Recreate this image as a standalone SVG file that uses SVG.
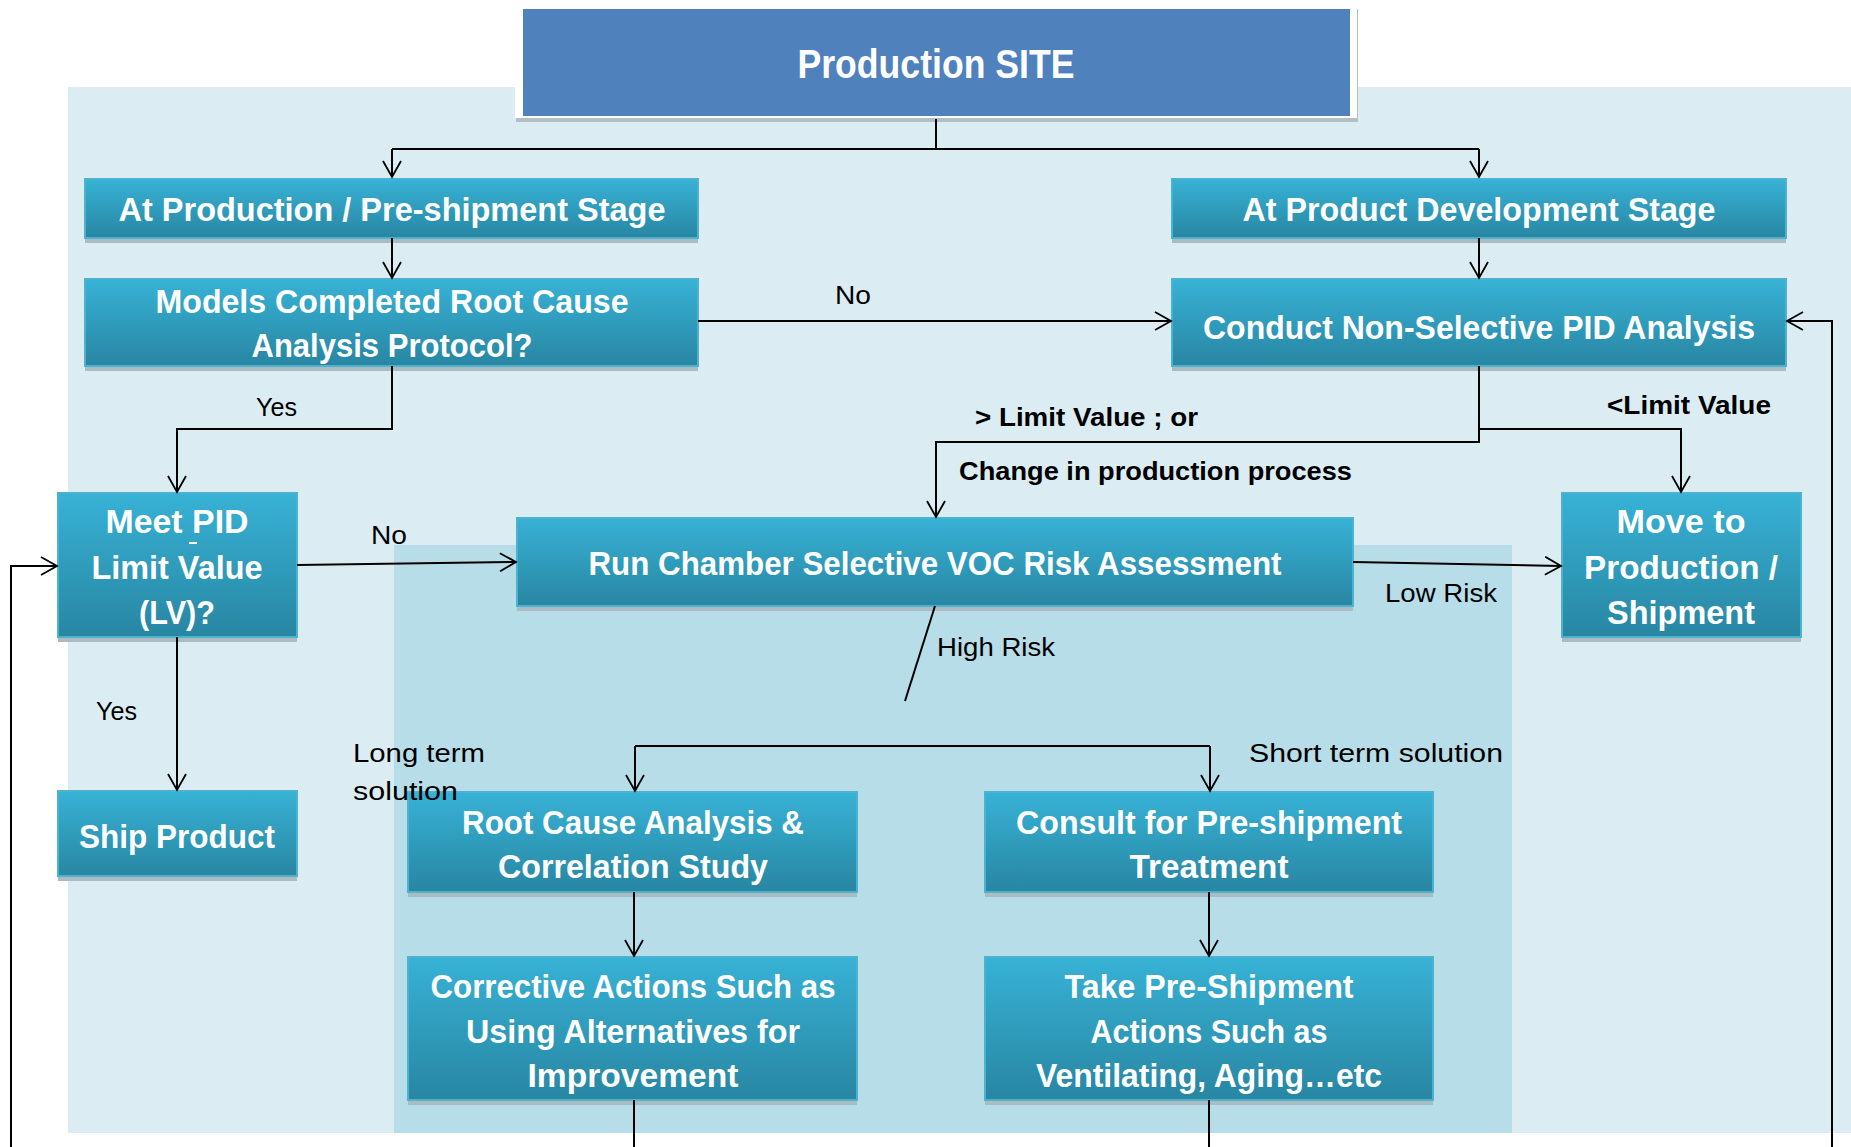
<svg xmlns="http://www.w3.org/2000/svg" width="1851" height="1147" viewBox="0 0 1851 1147">
<defs>
<linearGradient id="bx" x1="0" y1="0" x2="0" y2="1">
<stop offset="0" stop-color="#37b2d6"/>
<stop offset="1" stop-color="#2886a2"/>
</linearGradient>
<marker id="ah" markerUnits="userSpaceOnUse" markerWidth="20" markerHeight="22" refX="17" refY="10" orient="auto">
<path d="M1,1 L17,10 L1,19" fill="none" stroke="#000" stroke-width="1.8"/>
</marker>
<style>
.box{fill:url(#bx);stroke:#4cb3cf;stroke-width:2}
.sh{fill:#aabcc2}
.bt{font-family:"Liberation Sans",Arial,sans-serif;font-weight:bold;font-size:34px;fill:#fff;text-anchor:middle;dominant-baseline:central}
.lb{font-family:"Liberation Sans",Arial,sans-serif;font-size:26px;fill:#000;dominant-baseline:central}
.lbb{font-family:"Liberation Sans",Arial,sans-serif;font-size:26px;font-weight:bold;fill:#000;dominant-baseline:central}
.cn{fill:none;stroke:#000;stroke-width:2}
</style>
</defs>
<rect x="0" y="0" width="1851" height="1147" fill="#fff"/>
<rect x="68" y="87" width="1783" height="1046" fill="#dbedf3"/>
<rect x="394" y="545" width="1118" height="588" fill="#b7dde8"/>

<g id="production-site">
<rect x="516" y="9" width="842" height="113" fill="#b3bfc4"/>
<rect x="515" y="3" width="842" height="115" fill="#fff"/>
<rect x="523" y="9" width="827" height="107" fill="#4f81bd"/>
<text x="936" y="64" font-family="Liberation Sans,Arial,sans-serif" font-weight="bold" font-size="40" fill="#fff" text-anchor="middle" dominant-baseline="central" textLength="277" lengthAdjust="spacingAndGlyphs">Production SITE</text>
</g>

<g id="at-production">
<rect class="sh" x="85" y="183" width="613" height="60"/>
<rect class="box" x="85" y="179" width="613" height="59"/>
<text class="bt" x="392" y="209" textLength="547" lengthAdjust="spacingAndGlyphs">At Production / Pre-shipment Stage</text>
</g>

<g id="at-development">
<rect class="sh" x="1172" y="183" width="614" height="60"/>
<rect class="box" x="1172" y="179" width="614" height="59"/>
<text class="bt" x="1479" y="209" textLength="473" lengthAdjust="spacingAndGlyphs">At Product Development Stage</text>
</g>

<g id="models-completed">
<rect class="sh" x="85" y="283" width="613" height="88"/>
<rect class="box" x="85" y="279" width="613" height="87"/>
<text class="bt" x="392" y="301" textLength="473" lengthAdjust="spacingAndGlyphs">Models Completed Root Cause</text>
<text class="bt" x="392" y="345" textLength="281" lengthAdjust="spacingAndGlyphs">Analysis Protocol?</text>
</g>

<g id="conduct-pid">
<rect class="sh" x="1172" y="283" width="614" height="88"/>
<rect class="box" x="1172" y="279" width="614" height="87"/>
<text class="bt" x="1479" y="327" textLength="552" lengthAdjust="spacingAndGlyphs">Conduct Non-Selective PID Analysis</text>
</g>

<g id="meet-pid">
<rect class="sh" x="58" y="497" width="239" height="145"/>
<rect class="box" x="58" y="493" width="239" height="144"/>
<text class="bt" x="177" y="521" textLength="143" lengthAdjust="spacingAndGlyphs">Meet PID</text>
<rect x="189" y="542" width="8" height="2" fill="#fff"/>
<text class="bt" x="177" y="567" textLength="171" lengthAdjust="spacingAndGlyphs">Limit Value</text>
<text class="bt" x="177" y="612" textLength="76" lengthAdjust="spacingAndGlyphs">(LV)?</text>
</g>

<g id="run-chamber">
<rect class="sh" x="517" y="522" width="836" height="89"/>
<rect class="box" x="517" y="518" width="836" height="88"/>
<text class="bt" x="935" y="563" textLength="693" lengthAdjust="spacingAndGlyphs">Run Chamber Selective VOC Risk Assessment</text>
</g>

<g id="move-to-production">
<rect class="sh" x="1562" y="497" width="239" height="145"/>
<rect class="box" x="1562" y="493" width="239" height="144"/>
<text class="bt" x="1681" y="521" textLength="129" lengthAdjust="spacingAndGlyphs">Move to</text>
<text class="bt" x="1681" y="567" textLength="194" lengthAdjust="spacingAndGlyphs">Production /</text>
<text class="bt" x="1681" y="612" textLength="148" lengthAdjust="spacingAndGlyphs">Shipment</text>
</g>

<g id="ship-product">
<rect class="sh" x="58" y="795" width="239" height="86"/>
<rect class="box" x="58" y="791" width="239" height="85"/>
<text class="bt" x="177" y="836" textLength="196" lengthAdjust="spacingAndGlyphs">Ship Product</text>
</g>

<g id="root-cause">
<rect class="sh" x="408" y="796" width="449" height="101"/>
<rect class="box" x="408" y="792" width="449" height="100"/>
<text class="bt" x="633" y="822" textLength="342" lengthAdjust="spacingAndGlyphs">Root Cause Analysis &amp;</text>
<text class="bt" x="633" y="866" textLength="270" lengthAdjust="spacingAndGlyphs">Correlation Study</text>
</g>

<g id="consult">
<rect class="sh" x="985" y="796" width="448" height="101"/>
<rect class="box" x="985" y="792" width="448" height="100"/>
<text class="bt" x="1209" y="822" textLength="386" lengthAdjust="spacingAndGlyphs">Consult for Pre-shipment</text>
<text class="bt" x="1209" y="866" textLength="159" lengthAdjust="spacingAndGlyphs">Treatment</text>
</g>

<g id="corrective">
<rect class="sh" x="408" y="961" width="449" height="144"/>
<rect class="box" x="408" y="957" width="449" height="143"/>
<text class="bt" x="633" y="986" textLength="405" lengthAdjust="spacingAndGlyphs">Corrective Actions Such as</text>
<text class="bt" x="633" y="1031" textLength="334" lengthAdjust="spacingAndGlyphs">Using Alternatives for</text>
<text class="bt" x="633" y="1075" textLength="211" lengthAdjust="spacingAndGlyphs">Improvement</text>
</g>

<g id="take-pre-shipment">
<rect class="sh" x="985" y="961" width="448" height="144"/>
<rect class="box" x="985" y="957" width="448" height="143"/>
<text class="bt" x="1209" y="986" textLength="289" lengthAdjust="spacingAndGlyphs">Take Pre-Shipment</text>
<text class="bt" x="1209" y="1031" textLength="237" lengthAdjust="spacingAndGlyphs">Actions Such as</text>
<text class="bt" x="1209" y="1075" textLength="346" lengthAdjust="spacingAndGlyphs">Ventilating, Aging…etc</text>
</g>

<g id="connectors">
<path class="cn" d="M936,119 V149"/>
<path class="cn" d="M392,149 H1479"/>
<path class="cn" d="M392,149 V177" marker-end="url(#ah)"/>
<path class="cn" d="M1479,149 V177" marker-end="url(#ah)"/>
<path class="cn" d="M392,238 V278" marker-end="url(#ah)"/>
<path class="cn" d="M1479,238 V278" marker-end="url(#ah)"/>
<path class="cn" d="M698,321 H1171" marker-end="url(#ah)"/>
<path class="cn" d="M392,366 V429 H177 V492" marker-end="url(#ah)"/>
<path class="cn" d="M1479,366 V442 H936 V517" marker-end="url(#ah)"/>
<path class="cn" d="M1479,429 H1681 V492" marker-end="url(#ah)"/>
<path class="cn" d="M297,565 L516,562" marker-end="url(#ah)"/>
<path class="cn" d="M1353,562 L1561,566" marker-end="url(#ah)"/>
<path class="cn" d="M177,637 V790" marker-end="url(#ah)"/>
<path class="cn" d="M935,606 L905,701"/>
<path class="cn" d="M635,746 H1210"/>
<path class="cn" d="M635,746 V791" marker-end="url(#ah)"/>
<path class="cn" d="M1210,746 V791" marker-end="url(#ah)"/>
<path class="cn" d="M634,892 V956" marker-end="url(#ah)"/>
<path class="cn" d="M1209,892 V956" marker-end="url(#ah)"/>
<path class="cn" d="M634,1100 V1147"/>
<path class="cn" d="M1209,1100 V1147"/>
<path class="cn" d="M11,1147 V566 H57" marker-end="url(#ah)"/>
<path class="cn" d="M1832,1147 V321 H1787" marker-end="url(#ah)"/>
</g>

<g id="labels">
<text class="lb" x="835" y="295" textLength="36" lengthAdjust="spacingAndGlyphs">No</text>
<text class="lb" x="256" y="407" textLength="41" lengthAdjust="spacingAndGlyphs">Yes</text>
<text class="lbb" x="975" y="417" textLength="223" lengthAdjust="spacingAndGlyphs">&gt; Limit Value ; or</text>
<text class="lbb" x="959" y="471" textLength="393" lengthAdjust="spacingAndGlyphs">Change in production process</text>
<text class="lbb" x="1607" y="405" textLength="164" lengthAdjust="spacingAndGlyphs">&lt;Limit Value</text>
<text class="lb" x="371" y="535" textLength="36" lengthAdjust="spacingAndGlyphs">No</text>
<text class="lb" x="1385" y="593" textLength="112" lengthAdjust="spacingAndGlyphs">Low Risk</text>
<text class="lb" x="937" y="647" textLength="118" lengthAdjust="spacingAndGlyphs">High Risk</text>
<text class="lb" x="96" y="711" textLength="41" lengthAdjust="spacingAndGlyphs">Yes</text>
<text class="lb" x="353" y="753" textLength="132" lengthAdjust="spacingAndGlyphs">Long term</text>
<text class="lb" x="353" y="791" textLength="105" lengthAdjust="spacingAndGlyphs">solution</text>
<text class="lb" x="1249" y="753" textLength="254" lengthAdjust="spacingAndGlyphs">Short term solution</text>
</g>
</svg>
